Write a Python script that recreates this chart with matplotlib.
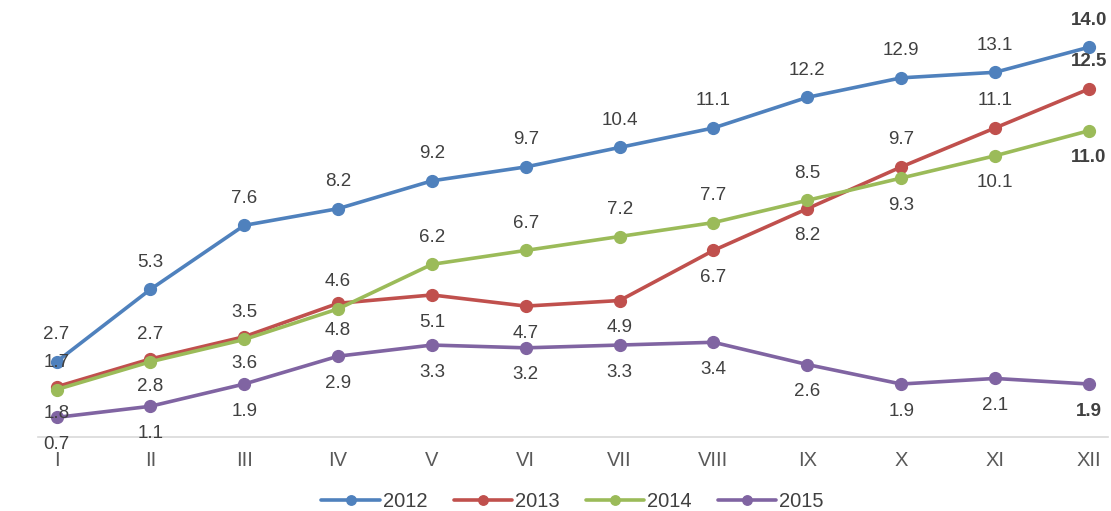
import matplotlib.pyplot as plt

plt.rcParams["font.family"] = ["Liberation Sans", "DejaVu Sans"]

months = ["I", "II", "III", "IV", "V", "VI", "VII", "VIII", "IX", "X", "XI", "XII"]
years = ["2012", "2013", "2014", "2015"]

v2012 = [2.7, 5.3, 7.6, 8.2, 9.2, 9.7, 10.4, 11.1, 12.2, 12.9, 13.1, 14.0]
v2013 = [1.8, 2.8, 3.6, 4.8, 5.1, 4.7, 4.9, 6.7, 8.2, 9.7, 11.1, 12.5]
v2014 = [1.7, 2.7, 3.5, 4.6, 6.2, 6.7, 7.2, 7.7, 8.5, 9.3, 10.1, 11.0]
v2015 = [0.7, 1.1, 1.9, 2.9, 3.3, 3.2, 3.3, 3.4, 2.6, 1.9, 2.1, 1.9]

# label placement: +1 above the point, -1 below
pos2012 = [1] * 12
pos2013 = [-1, -1, -1, -1, -1, -1, -1, -1, -1, 1, 1, 1]
pos2014 = [1, 1, 1, 1, 1, 1, 1, 1, 1, -1, -1, -1]
pos2015 = [-1] * 12

colors = ["#4F81BD", "#C0504D", "#9BBB59", "#8064A2"]

fig = plt.figure(figsize=(11.11, 5.11), dpi=100)
ax = fig.add_axes([0.034, 0.145, 0.963, 0.835])

x = list(range(len(months)))
series = [(v2012, pos2012), (v2013, pos2013), (v2014, pos2014), (v2015, pos2015)]
for (vals, pos), color, year in zip(series, colors, years):
    ax.plot(x, vals, color=color, lw=2.6, marker="o", ms=8.5, label=year,
            solid_capstyle="round")
    for i, (v, p) in enumerate(zip(vals, pos)):
        last = i == len(vals) - 1
        ax.annotate(f"{v:.1f}", (i, v), xytext=(0, 19.5 * p), textcoords="offset points",
                    ha="center", va="center", fontsize=13.5, color="#404040",
                    fontweight="bold" if last else "normal")

ax.set_xlim(-0.2, 11.2)
ax.set_ylim(0, 15.33)
ax.set_yticks([])
ax.set_xticks(x)
ax.set_xticklabels(months, fontsize=14.5, color="#595959")
ax.tick_params(axis="x", length=0, pad=10)
for side in ["left", "right", "top"]:
    ax.spines[side].set_visible(False)
ax.spines["bottom"].set_color("#D9D9D9")
ax.spines["bottom"].set_linewidth(1.2)

leg = ax.legend(loc="lower center", bbox_to_anchor=(0.5, -0.206), ncol=4, frameon=False,
                fontsize=14.5, handlelength=2.9, columnspacing=1.3, handletextpad=0.15,
                markerscale=0.8, borderpad=0.2)
for t in leg.get_texts():
    t.set_color("#404040")

fig.savefig("out.png", dpi=100)
